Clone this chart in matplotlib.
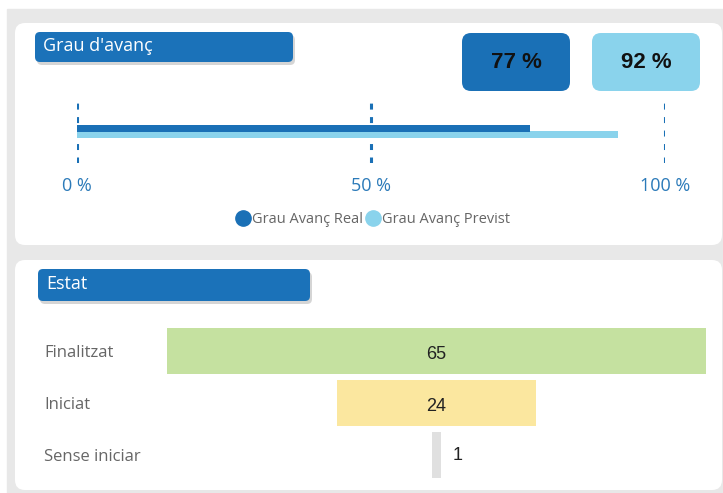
import matplotlib
matplotlib.use("Agg")
import matplotlib.pyplot as plt
from matplotlib.patches import FancyBboxPatch, Rectangle
from matplotlib.lines import Line2D

# data
progress_names = ["Grau Avanç Real", "Grau Avanç Previst"]
progress_values = [77, 92]
progress_ticks = [0, 50, 100]
tick_labels = ["0 %", "50 %", "100 %"]

stages = ["Finalitzat", "Iniciat", "Sense iniciar"]
stage_counts = [65, 24, 1]

dark_blue = "#1a70b6"
light_blue = "#8ad3ec"
stage_colors = ["#c5e1a0", "#fbe79f", "#e0e0e0"]
W, H = 723, 493

plt.rcParams["font.family"] = ["Open Sans", "DejaVu Sans"]

fig = plt.figure(figsize=(W / 100, H / 100), dpi=100)
fig.patch.set_facecolor("white")

# background layer in pixel coords
bg = fig.add_axes([0, 0, 1, 1])
bg.set_xlim(0, W)
bg.set_ylim(H, 0)
bg.axis("off")
bg.add_patch(Rectangle((7, 9), W - 7, H - 9, color="#e8e8e8", zorder=0))

def card(x0, y0, x1, y1):
    bg.add_patch(FancyBboxPatch((x0, y0), x1 - x0, y1 - y0,
                                boxstyle="round,pad=0,rounding_size=10",
                                fc="white", ec="none", zorder=1))

def title_box(x0, y0, x1, y1, txt):
    bg.add_patch(FancyBboxPatch((x0 + 2, y0 + 3), x1 - x0, y1 - y0,
                                boxstyle="round,pad=0,rounding_size=5",
                                fc="#b9b9b9", ec="none", zorder=2, alpha=0.6))
    bg.add_patch(FancyBboxPatch((x0, y0), x1 - x0, y1 - y0,
                                boxstyle="round,pad=0,rounding_size=5",
                                fc="#1b72b9", ec="none", zorder=3))
    bg.text(x0 + 8, (y0 + y1) / 2 - 1, txt, color="white", fontsize=13,
            va="center", ha="left", zorder=4)

card(15, 23, 722, 245)
card(15, 260, 722, 490)
title_box(35, 32, 293, 62, "Grau d'avanç")
title_box(38, 269, 310, 301, "Estat")

# KPI boxes
for x0, val, col in zip([462, 592], progress_values, [dark_blue, light_blue]):
    bg.add_patch(FancyBboxPatch((x0, 33), 108, 58,
                                boxstyle="round,pad=0,rounding_size=9",
                                fc=col, ec="none", zorder=2))
    bg.text(x0 + 54, 62, f"{val} %", ha="center", va="center",
            fontsize=16, fontweight="bold", family="Liberation Sans",
            color="#111111", zorder=3)

# progress bars
ax = fig.add_axes([77 / W, (H - 163) / H, 588 / W, 63 / H])
ax.patch.set_alpha(0)
ax.set_xlim(0, 100)
ax.set_ylim(0, 1)
for t in progress_ticks:
    ax.axvline(t, color=dark_blue, lw=2.2, ls=(0, (1.96, 2.45)), zorder=1)
for i, (v, col, yc) in enumerate(zip(progress_values, [dark_blue, light_blue], [0.548, 0.452])):
    ax.barh(yc, v, height=0.111, color=col, zorder=3 - i)
ax.set_xticks(progress_ticks)
ax.set_xticklabels(tick_labels, color="#2b7ab9", fontsize=13)
ax.tick_params(axis="x", length=0, pad=10)
ax.set_yticks([])
for s in ax.spines.values():
    s.set_visible(False)

handles = [Line2D([], [], marker="o", ls="none", ms=11, mfc=c, mec=c)
           for c in [dark_blue, light_blue]]
fig.legend(handles, progress_names, loc="center", bbox_to_anchor=(373 / W, 1 - 220 / H),
           ncol=2, frameon=False, fontsize=10.5, handlelength=0.9, handletextpad=0.15,
           columnspacing=0.25, labelcolor="#666666")

# funnel
fx = fig.add_axes([167 / W, (H - 481) / H, 539 / W, 156 / H])
fx.patch.set_alpha(0)
mx = max(stage_counts)
fx.set_xlim(-mx / 2, mx / 2)
fx.set_ylim(2.5, -0.5)
ypos = list(range(len(stages)))
fx.barh(ypos, stage_counts, left=[-c / 2 for c in stage_counts], height=0.885,
        color=stage_colors)
for y, c in zip(ypos, stage_counts):
    if c > 5:
        fx.text(0, y + 0.06, str(c), ha="center", va="center", fontsize=13,
                family="Liberation Sans", color="#222222")
    else:
        fx.text(c / 2 + 1.5, y, str(c), ha="left", va="center", fontsize=13,
                family="Liberation Sans", color="#222222")
fx.set_yticks(ypos)
fx.set_yticklabels(stages, ha="left", color="#666666", fontsize=12)
fx.tick_params(axis="y", length=0, pad=123 * 0.72)
fx.set_xticks([])
for s in fx.spines.values():
    s.set_visible(False)

fig.savefig("out.png", dpi=100)
